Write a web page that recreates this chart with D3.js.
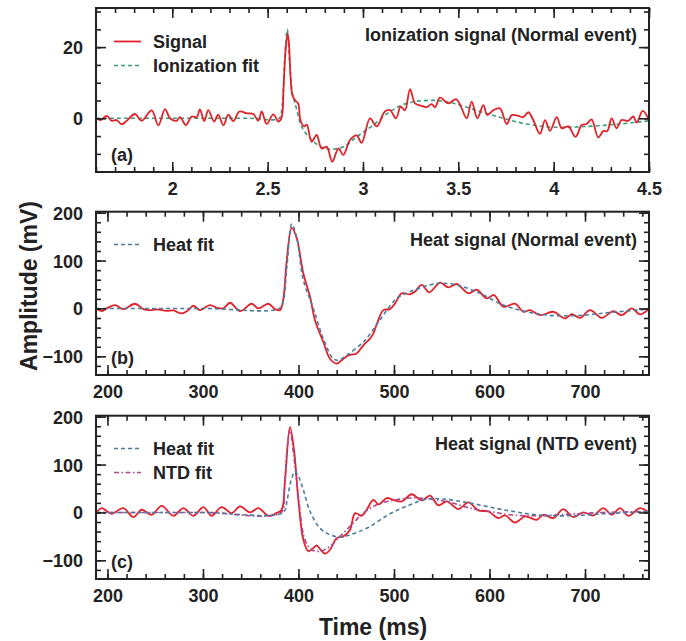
<!DOCTYPE html>
<html><head><meta charset="utf-8">
<script src="https://cdn.jsdelivr.net/npm/d3@7/dist/d3.min.js"></script>
<style>body{margin:0;background:#fff}svg{display:block}text{font-family:"Liberation Sans",Arial,sans-serif;font-weight:bold;fill:#222}</style>
</head><body>
<script>
// ---------- DATA ----------
// Panel (a) ionization signal, time in ms*1e-2 units as on axis
const ionSignalT = [1.603,1.625,1.656,1.682,1.708,1.735,1.761,1.804,1.839,1.892,1.927,1.962,1.988,2.023,2.040,2.072,2.102,2.128,2.145,2.168,2.189,2.219,2.241,2.268,2.294,2.320,2.352,2.390,2.425,2.451,2.469,2.495,2.530,2.556,2.572,2.584,2.594,2.605,2.612,2.620,2.630,2.645,2.660,2.672,2.690,2.705,2.731,2.757,2.783,2.810,2.839,2.871,2.897,2.932,2.967,2.993,3.037,3.072,3.115,3.142,3.173,3.198,3.220,3.247,3.273,3.308,3.334,3.360,3.378,3.404,3.448,3.488,3.512,3.544,3.570,3.600,3.631,3.652,3.684,3.718,3.754,3.780,3.815,3.841,3.867,3.893,3.928,3.955,3.981,4.016,4.042,4.077,4.115,4.147,4.173,4.199,4.234,4.260,4.281,4.304,4.330,4.356,4.391,4.418,4.435,4.467,4.500];
const ionSignal  = [0,-0.5,0.7,-0.7,-0.5,-1.7,-0.7,1.2,-0.7,2.2,-2.0,2.6,0,-0.7,0.3,-1.9,0.5,0.3,2.5,-0.8,2.3,-0.9,1.0,-2.0,1.0,-0.8,1.9,1.4,1.2,-0.7,1.9,-1.6,1.1,-0.9,0,9,19,23.8,21,12,6.5,5,4.2,-0.5,-2.3,-1.8,-6.6,-4.7,-8.5,-8.0,-12.2,-8.5,-10.3,-6.1,-4.8,-6.9,0,-2.3,1.9,2.3,0,3.3,2.2,8.2,4.2,3.5,3.1,4.0,3.1,5.8,4.2,5.4,3.5,0,4.7,0,3.7,0.9,2.3,2.8,-1.6,0.9,0.7,0.3,1.7,-0.5,-4.4,-0.5,-3.5,0.3,-2.8,-2.3,-5.2,-1.9,-1.6,-0.3,-5.4,-3.6,-3.6,0,-2.8,-0.5,-0.7,0.5,-1.2,2.1,-0.5];
const ionFitT = [1.60,2.40,2.56,2.575,2.590,2.603,2.615,2.630,2.650,2.678,2.731,2.780,2.827,2.897,2.967,3.054,3.142,3.210,3.273,3.386,3.474,3.614,3.736,3.858,3.998,4.173,4.348,4.500];
const ionFit  = [0,0,0,3,17,25,16,7,3,-2.3,-6.1,-8.0,-8.7,-8.0,-5.2,-1.9,1.9,3.8,4.7,5.0,4.2,1.9,0,-1.6,-2.5,-2.3,-1.6,-0.7];

// Panel (b) heat signal, normal event (ms, mV)
const heatSignalT = [188.7,193.9,199.2,207.9,216.6,228.8,237.6,244.5,251.5,262.0,269.0,277.7,284.7,289.9,296.9,307.4,314.4,321.3,328.3,338.8,351.0,358.0,368.5,375.4,380.7,384.2,387.6,392.9,398.1,405.1,412.1,417.3,426.0,433.0,440.0,445.2,452.2,460.9,467.9,474.9,478.4,482.5,488.9,495.8,501.1,508.1,516.8,522.0,529.0,537.0,548.2,556.9,565.7,577.9,586.6,597.1,604.7,614.5,626.7,635.5,642.4,652.9,666.9,679.1,686.1,694.8,705.3,717.5,729.7,738.4,748.9,757.6,767.4];
const heatSignal  = [0,-5.6,0,7,-1.4,9.8,-1.4,-3.5,-2,-4.9,-4.2,-10.5,-3.5,5.6,-3.5,7,1.4,0,11.9,-5.6,9.8,0,9.8,-1.4,-3.5,21,98,168,147,73,24.5,-24.5,-70,-105,-115,-108,-98,-94,-77,-63,-52,-30,-3.5,-1.4,10.5,31.5,29.4,35,49,33.6,54,44,51,31.5,39,21,28,3.5,9.8,-7,-3.5,-14,-7,-21,-12,-19.6,-3.5,-19.6,-5.6,-14,0,-12.6,0];
const heatFitT = [188,300,380,384,388,393,398,405.1,415.6,426,436.5,441.7,450.5,467.9,478,488.9,502.8,516.8,544.7,565.7,590,614.5,642.4,670.4,698.3,726.2,767.4];
const heatFit  = [0,0,0,15,90,176,150,59,0,-63,-105,-108,-98,-70,-45,-14,21,35,52,49,31.5,7,-8.4,-15.4,-14,-8.4,-1.4];

// Panel (c) heat signal, NTD event (ms, mV)
const ntdSignalT = [188.7,193.9,199.2,204.4,216.6,227.1,235.8,246.3,256.8,269.0,279.5,289.9,300.4,309.1,319.6,330.1,338.8,349.3,358.0,368.5,377.2,382.4,385.9,391.1,395.3,399.9,405.1,410.3,415.6,419.1,422.6,427.8,433.0,440.0,447.0,454.0,459.2,466.2,471.4,478.4,484.0,492.4,499.3,508.1,518.5,529.0,537.7,546.5,555.2,567.4,577.9,588.3,598.8,609.3,616.3,626.7,637.2,649.4,656.4,666.9,677.3,687.8,698.3,708.8,719.2,728.0,736.7,745.4,757.6,767.4];
const ntdSignal  = [0,9,3,-2.8,9,-9.7,5.6,-4.9,13.9,-7,9,-7,11,-7,11,-1.4,12.5,0,9,-7,-1,5.6,68,178,131,26,-57,-81,-74,-69,-76.5,-86,-78,-53.6,-50,-36,-1.4,-7,5.6,26,17,30,26,23,38,25,35,14.6,23,7,21,4.2,2,-11.8,-6.3,-21,-8.4,-15.3,-4.9,-11.8,7,-9.7,0,-6.3,9,-4.9,9,-7,9,-1.4];
const ntdHeatFitT = [188,300,384,388,392,396.4,400,405.1,412.1,422.6,433,443.5,454,471.4,495.8,516.8,534.2,551.7,579.6,614.5,649.4,684.3,719.2,767.4];
const ntdHeatFit  = [0,0,0,25,65,85.6,75,47,2,-33,-46.6,-51.5,-46.6,-33,-3,16,28,28,19.5,5.6,-4.9,-7,-2.8,2];
const ntdFitT = [188,300,382,385,388,391,395,399.9,406.8,413.8,422.6,433,443.5,457.4,467.9,481.9,495.8,516.8,537.7,558.6,579.6,600.5,621.5,649.4,684.3,719.2,767.4];
const ntdFit  = [0,0,0,40,130,172,120,33,-57,-78,-81,-71,-50,-22,-1.4,16,24,30,28,21,9,2,-4.9,-7,-3.5,0,2];

const ionXTicks = [2,2.5,3,3.5,4,4.5];
const ionYTicks = [0,20];
const heatXTicks = [200,300,400,500,600,700];
const heatYTicks = [-100,0,100,200];

// ---------- STYLE ----------
const C_SIG = "#e1222b", C_ION = "#3e9a7c", C_HEAT = "#4d7c9e", C_NTD = "#b2448a", C_AX = "#222";

const W = 686, H = 641;
const svg = d3.select("body").append("svg").attr("width", W).attr("height", H);
const L = 96, R = 649;

function panel(cfg) {
  const x = d3.scaleLinear().domain(cfg.xd).range([L, R]);
  const y = d3.scaleLinear().domain(cfg.yd).range([cfg.bottom, cfg.top]);
  const g = svg.append("g");
  const clipId = "clip" + cfg.id;
  svg.append("clipPath").attr("id", clipId).append("rect")
    .attr("x", L).attr("y", cfg.top).attr("width", R - L).attr("height", cfg.bottom - cfg.top);
  const plot = g.append("g").attr("clip-path", `url(#${clipId})`);
  const line = d3.line().x(d => x(d[0])).y(d => y(d[1])).curve(d3.curveCatmullRom.alpha(0.5));
  cfg.series.forEach(s => {
    plot.append("path").datum(d3.zip(s.t, s.v)).attr("d", line)
      .attr("fill", "none").attr("stroke", s.color).attr("stroke-width", s.w)
      .attr("stroke-dasharray", s.dash || null).attr("stroke-linejoin", "round");
  });
  // ticks on all sides
  const hgt = cfg.bottom - cfg.top;
  function ticks(axisFn, scale, vals, len, transform) {
    const a = axisFn(scale).tickValues(vals).tickSizeInner(-len).tickSizeOuter(0).tickFormat("");
    const gg = g.append("g").attr("transform", transform).call(a);
    gg.select(".domain").remove();
    gg.selectAll("line").attr("stroke", C_AX).attr("stroke-width", 1.6);
  }
  const xMinor = d3.range(Math.ceil(cfg.xd[0] / cfg.xm - 1e-9), Math.floor(cfg.xd[1] / cfg.xm + 1e-9) + 1).map(i => +(i * cfg.xm).toFixed(6));
  const yMinor = d3.range(Math.ceil(cfg.yd[0] / cfg.ym - 1e-9), Math.floor(cfg.yd[1] / cfg.ym + 1e-9) + 1).map(i => +(i * cfg.ym).toFixed(6));
  const xMaj = xMinor.filter(v => Math.abs(v / cfg.xM - Math.round(v / cfg.xM)) < 1e-6);
  const yMaj = yMinor.filter(v => Math.abs(v / cfg.yM - Math.round(v / cfg.yM)) < 1e-6);
  ticks(d3.axisBottom, x, xMinor, 5, `translate(0,${cfg.bottom})`);
  ticks(d3.axisBottom, x, xMaj, 10, `translate(0,${cfg.bottom})`);
  ticks(d3.axisTop, x, xMinor, 5, `translate(0,${cfg.top})`);
  ticks(d3.axisTop, x, xMaj, 10, `translate(0,${cfg.top})`);
  ticks(d3.axisLeft, y, yMinor, 5, `translate(${L},0)`);
  ticks(d3.axisLeft, y, yMaj, 10, `translate(${L},0)`);
  ticks(d3.axisRight, y, yMinor, 5, `translate(${R},0)`);
  ticks(d3.axisRight, y, yMaj, 10, `translate(${R},0)`);
  // labels
  const xl = g.append("g").attr("transform", `translate(0,${cfg.bottom})`)
    .call(d3.axisBottom(x).tickValues(cfg.xt).tickSize(0).tickPadding(10).tickFormat(d3.format("~g")));
  xl.select(".domain").remove();
  xl.selectAll("text").attr("font-size", 18).attr("font-family", null).attr("fill", C_AX);
  const yl = g.append("g").attr("transform", `translate(${L},0)`)
    .call(d3.axisLeft(y).tickValues(cfg.yt).tickSize(0).tickPadding(13).tickFormat(d3.format("~g")));
  yl.select(".domain").remove();
  yl.selectAll("text").attr("font-size", 18).attr("font-family", null).attr("fill", C_AX).attr("dy", "0.36em");
  // frame
  g.append("rect").attr("x", L).attr("y", cfg.top).attr("width", R - L).attr("height", hgt)
    .attr("fill", "none").attr("stroke", C_AX).attr("stroke-width", 2);
  // title
  g.append("text").attr("x", 637).attr("y", cfg.titleY).attr("text-anchor", "end")
    .attr("font-size", 18).text(cfg.title);
  g.append("text").attr("x", 111).attr("y", cfg.tagY).attr("font-size", 18).text(cfg.tag);
  // legend
  cfg.legend.forEach((l, i) => {
    const by = l.y;
    g.append("line").attr("x1", 114).attr("x2", 141).attr("y1", by - 6.5).attr("y2", by - 6.5)
      .attr("stroke", l.color).attr("stroke-width", l.w).attr("stroke-dasharray", l.dash || null);
    g.append("text").attr("x", 153).attr("y", by).attr("font-size", 18).text(l.label);
  });
}

panel({
  id: "a", xd: [1.6, 4.5], yd: [-15.1, 31], top: 8, bottom: 172,
  xm: 0.1, xM: 0.5, ym: 5, yM: 20, xt: ionXTicks, yt: ionYTicks,
  title: "Ionization signal (Normal event)", titleY: 41, tag: "(a)", tagY: 161,
  series: [
    { t: ionFitT, v: ionFit, color: C_ION, w: 1.6, dash: "4,3" },
    { t: ionSignalT, v: ionSignal, color: C_SIG, w: 1.8 }
  ],
  legend: [
    { label: "Signal", y: 48, color: C_SIG, w: 1.8 },
    { label: "Ionization fit", y: 72, color: C_ION, w: 1.6, dash: "4,3" }
  ]
});

panel({
  id: "b", xd: [188, 767], yd: [-139, 202], top: 211.7, bottom: 375,
  xm: 20, xM: 100, ym: 20, yM: 100, xt: heatXTicks, yt: heatYTicks,
  title: "Heat signal (Normal event)", titleY: 246, tag: "(b)", tagY: 364,
  series: [
    { t: heatSignalT, v: heatSignal, color: C_SIG, w: 1.8 },
    { t: heatFitT, v: heatFit, color: C_HEAT, w: 1.6, dash: "4,3" }
  ],
  legend: [
    { label: "Heat fit", y: 251, color: C_HEAT, w: 1.6, dash: "4,3" }
  ]
});

panel({
  id: "c", xd: [188, 767], yd: [-139, 202], top: 415.7, bottom: 579,
  xm: 20, xM: 100, ym: 20, yM: 100, xt: heatXTicks, yt: heatYTicks,
  title: "Heat signal (NTD event)", titleY: 449.5, tag: "(c)", tagY: 568,
  series: [
    { t: ntdSignalT, v: ntdSignal, color: C_SIG, w: 1.8 },
    { t: ntdFitT, v: ntdFit, color: C_NTD, w: 1.6, dash: "5,2.5,1.5,2.5" },
    { t: ntdHeatFitT, v: ntdHeatFit, color: C_HEAT, w: 1.6, dash: "4,3" }
  ],
  legend: [
    { label: "Heat fit", y: 455, color: C_HEAT, w: 1.6, dash: "4,3" },
    { label: "NTD fit", y: 479, color: C_NTD, w: 1.6, dash: "5,2.5,1.5,2.5" }
  ]
});

svg.append("text").attr("x", 373).attr("y", 635).attr("text-anchor", "middle")
  .attr("font-size", 23).text("Time (ms)");
svg.append("text").attr("transform", "translate(37,286) rotate(-90)").attr("text-anchor", "middle")
  .attr("font-size", 23).text("Amplitude (mV)");
</script>
</body></html>
